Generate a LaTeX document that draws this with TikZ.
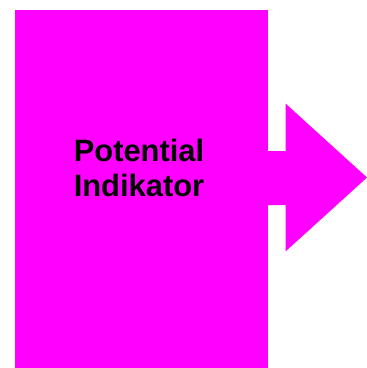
\documentclass[tikz,border=0pt]{standalone}
\usepackage{fontspec}
\setmainfont{Liberation Sans}
\definecolor{magentafill}{HTML}{FF00FF}
\begin{document}
\begin{tikzpicture}[x=1bp,y=-1bp,
  block/.style={fill=magentafill,draw=none,inner sep=0pt,
    minimum width=253bp,minimum height=358bp},
  label/.style={font=\bfseries\fontsize{31}{35}\selectfont,align=center,inner sep=0pt}]
  \useasboundingbox (0,0) rectangle (367,368);
  % main block
  \node[block] (box) at (141.5,189) {};
  % outgoing arrow: shaft plus triangular head
  \fill[magentafill] (box.east |- 0,151) -- (285.5,151) -- (285.5,103.5)
    -- (367,177.5) -- (285.5,251.5) -- (285.5,205) -- (box.east |- 0,205) -- cycle;
  % caption (base anchor sits on the last line)
  \node[label,anchor=base] (cap) at (139,196) {Potential\\Indikator};
\end{tikzpicture}
\end{document}
